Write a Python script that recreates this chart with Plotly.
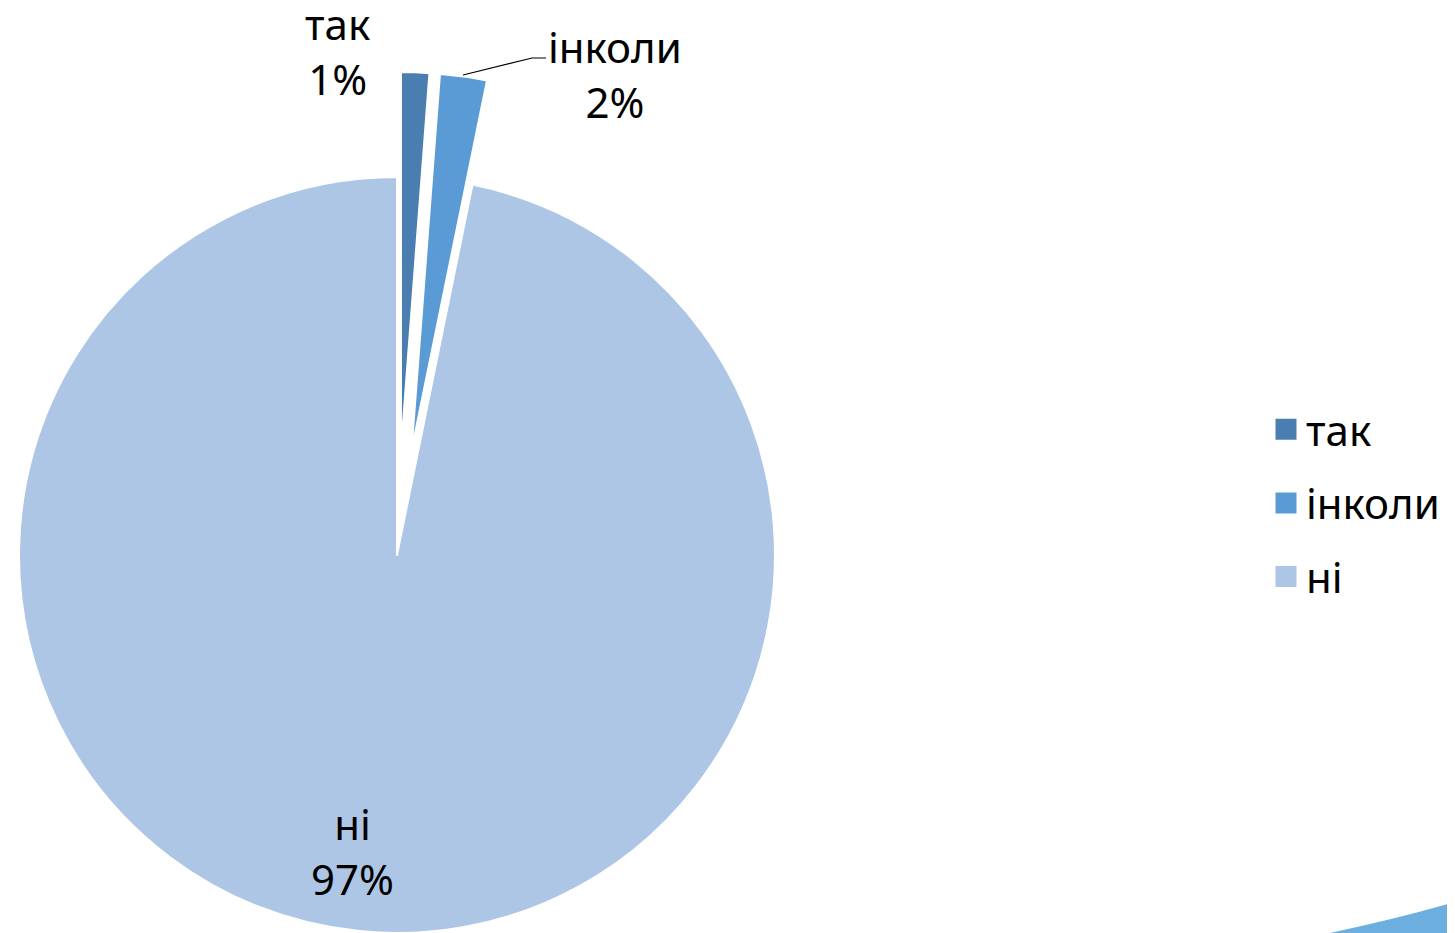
import math
import plotly.graph_objects as go

# ---- data ----
categories = ["так", "інколи", "ні"]
values = [1.2, 2.0, 96.8]
percent_labels = ["1%", "2%", "97%"]
colors = ["#4A7EB1", "#5B9BD5", "#AEC6E6"]
pulled = [True, True, False]

# ---- layout constants (screen pixels; page body has an 8px margin) ----
OFF = 8
W, H = 1455 - OFF, 933 - OFF
R = 378            # pie radius
CX, CY = 397, 555  # centre of the pie (screen px)
PULL = 105         # distance pulled slices are moved out


def px(x):
    return (x - OFF) / W


def py(y):
    return 1 - (y - OFF) / H


total = sum(values)
cum = 0
bisectors = []
for v in values:
    bisectors.append((cum + v / 2) / total * 360)
    cum += v


def domain_for(cx, cy):
    return dict(x=[px(cx - R), px(cx + R)], y=[py(cy + R), py(cy - R)])


fig = go.Figure()
TRANSP = "rgba(0,0,0,0)"

order = [i for i in range(len(values)) if not pulled[i]] + [i for i in range(len(values)) if pulled[i]]
drawn_unpulled = False
for i in order:
    if pulled[i]:
        a = math.radians(bisectors[i])
        cx = CX + PULL * math.sin(a)
        cy = CY - PULL * math.cos(a)
        show = [j == i for j in range(len(values))]
    else:
        if drawn_unpulled:
            continue
        drawn_unpulled = True
        cx, cy = CX, CY
        show = [not p for p in pulled]
    fig.add_trace(go.Pie(
        labels=categories,
        values=values,
        sort=False,
        direction="clockwise",
        rotation=0,
        textinfo="none",
        hoverinfo="skip",
        showlegend=False,
        marker=dict(
            colors=[c if s else TRANSP for c, s in zip(colors, show)],
            line=dict(color=["white" if s else TRANSP for s in show],
                      width=[2 if s else 0 for s in show]),
        ),
        domain=domain_for(cx, cy),
    ))

# legend entries
for k, (cat, col) in enumerate(zip(categories, colors)):
    fig.add_trace(go.Scatter(
        x=[None], y=[None], mode="markers", name=cat,
        legendgroup=f"g{k}",
        marker=dict(symbol="square", size=16, color=col,
                    line=dict(color=col, width=5)),
        hoverinfo="skip",
    ))

# data labels
label_pos = [(337, 51), (615, 74), (352, 851)]
for cat, pl, (lx, ly) in zip(categories, percent_labels, label_pos):
    fig.add_annotation(
        x=px(lx), y=py(ly), xref="paper", yref="paper",
        text=f"{cat}<br>{pl}", showarrow=False,
        xanchor="center", yanchor="middle", align="center",
        font=dict(family="Noto Sans", size=42, color="black"),
    )

# leader line for інколи
pts = [(463, 75), (532, 58), (546, 58)]
path = "M " + " L ".join(f"{px(x)},{py(y)}" for x, y in pts)
fig.add_shape(type="path", path=path, xref="paper", yref="paper",
              line=dict(color="black", width=1.2))

# decorative corner swoosh
fig.add_shape(type="path", xref="paper", yref="paper",
              path=f"M {px(1330)},{py(933)} Q {px(1400)},{py(918)} {px(1455)},{py(902)} L {px(1455)},{py(933)} Z",
              fillcolor="#6BAEDF", line=dict(width=0))

fig.update_layout(
    width=W, height=H,
    margin=dict(l=0, r=0, t=0, b=0),
    paper_bgcolor="white", plot_bgcolor="white",
    xaxis=dict(visible=False), yaxis=dict(visible=False),
    showlegend=True,
    legend=dict(
        x=px(1266), y=py(503), xanchor="left", yanchor="middle",
        font=dict(family="Noto Sans", size=42, color="black"),
        traceorder="grouped", tracegroupgap=16,
        bgcolor="rgba(0,0,0,0)", itemclick=False, itemdoubleclick=False,
    ),
)

fig.write_html("out.html")
